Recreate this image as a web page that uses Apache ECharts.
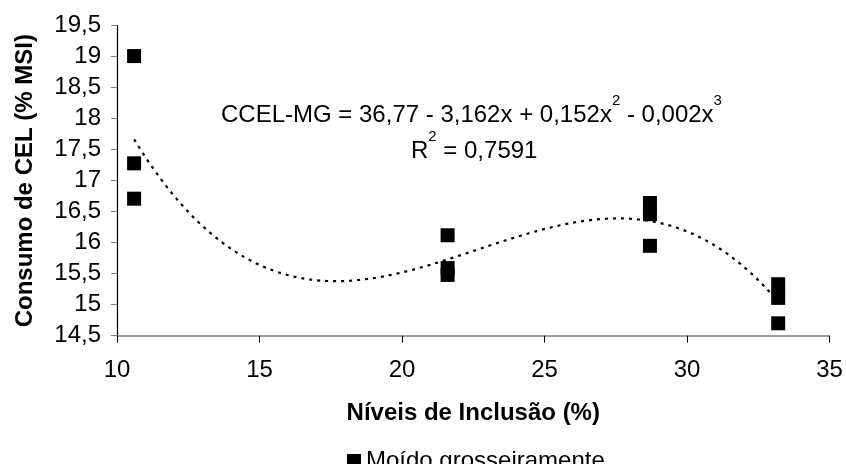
<!DOCTYPE html>
<html>
<head>
<meta charset="utf-8">
<script src="https://cdn.jsdelivr.net/npm/echarts@6/dist/echarts.min.js"></script>
<style>
  html, body { margin: 0; padding: 0; background: #fff; }
  #chart { width: 846px; height: 464px; }
</style>
</head>
<body>
<div id="chart"></div>
<script>
// ---- data ----
const xLevels = [10.6, 10.6, 10.6, 21.6, 21.6, 21.6, 28.7, 28.7, 28.7, 33.2, 33.2, 33.2];
const yValues = [19.01, 17.28, 16.71, 16.12, 15.59, 15.48, 16.64, 16.46, 15.95, 15.33, 15.11, 14.70];
const seriesName = 'Moído grosseiramente';
const xTitle = 'Níveis de Inclusão (%)';
const yTitle = 'Consumo de CEL (% MSI)';
const equationText = 'CCEL-MG = 36,77 - 3,162x + 0,152x';
const equationTail = ' - 0,002x';
const r2Text = 'R';
const r2Value = ' = 0,7591';

// ---- cubic least-squares trendline (computed from the data, as Excel does) ----
function polyFit(xs, ys, deg) {
  const n = deg + 1;
  const A = Array.from({length: n}, () => new Array(n + 1).fill(0));
  for (let k = 0; k < xs.length; k++) {
    for (let i = 0; i < n; i++) {
      for (let j = 0; j < n; j++) A[i][j] += Math.pow(xs[k], i + j);
      A[i][n] += ys[k] * Math.pow(xs[k], i);
    }
  }
  for (let c = 0; c < n; c++) {
    let p = c;
    for (let r = c + 1; r < n; r++) if (Math.abs(A[r][c]) > Math.abs(A[p][c])) p = r;
    [A[c], A[p]] = [A[p], A[c]];
    for (let r = 0; r < n; r++) {
      if (r === c) continue;
      const f = A[r][c] / A[c][c];
      for (let j = c; j <= n; j++) A[r][j] -= f * A[c][j];
    }
  }
  return A.map((row, i) => row[n] / row[i]);
}
const coef = polyFit(xLevels, yValues, 3);
const xMin = Math.min(...xLevels), xMax = Math.max(...xLevels);
const trend = [];
for (let i = 0; i <= 120; i++) {
  const x = xMin + (xMax - xMin) * i / 120;
  trend.push([x, coef[0] + coef[1] * x + coef[2] * x * x + coef[3] * x * x * x]);
}
const points = xLevels.map((x, i) => [x, yValues[i]]);

const FONT = '"Liberation Sans", Arial, sans-serif';
const FS = 24;
const fmt = v => String(v).replace('.', ',');

const chart = echarts.init(document.getElementById('chart'), null, {renderer: 'canvas'});
chart.setOption({
  animation: false,
  backgroundColor: '#ffffff',
  textStyle: { fontFamily: FONT },
  grid: { left: 117, right: 16.5, top: 25.7, bottom: 128.3, containLabel: false },
  xAxis: {
    type: 'value', min: 10, max: 35, interval: 5,
    name: xTitle, nameLocation: 'middle', nameGap: 66,
    nameTextStyle: { fontFamily: FONT, fontSize: FS, fontWeight: 'bold', color: '#000' },
    axisLine: { show: true, lineStyle: { color: '#808080', width: 1.5 } },
    axisTick: { show: true, length: 7, lineStyle: { color: '#000', width: 1 } },
    axisLabel: { margin: 23, fontFamily: FONT, fontSize: FS, color: '#000' },
    splitLine: { show: false }
  },
  yAxis: {
    type: 'value', min: 14.5, max: 19.5, interval: 0.5,
    name: yTitle, nameLocation: 'middle', nameGap: 80, nameRotate: 90,
    nameTextStyle: { fontFamily: FONT, fontSize: FS, fontWeight: 'bold', color: '#000' },
    axisLine: { show: true, lineStyle: { color: '#000', width: 1.2 } },
    axisTick: { show: true, length: 6, lineStyle: { color: '#808080', width: 1 } },
    axisLabel: { margin: 16, fontFamily: FONT, fontSize: FS, color: '#000', formatter: fmt },
    splitLine: { show: false }
  },
  legend: {
    data: [seriesName], left: 342, top: 444,
    icon: 'rect', itemWidth: 14, itemHeight: 14, itemGap: 5,
    textStyle: { fontFamily: FONT, fontSize: FS, color: '#000' }
  },
  graphic: [
    {
      type: 'text', left: 221, top: 93, silent: true,
      style: {
        text: '{m|' + equationText + '}{s|2}{m|' + equationTail + '}{s|3}',
        rich: {
          m: { fontFamily: FONT, fontSize: FS, fill: '#000', verticalAlign: 'bottom', lineHeight: 34 },
          s: { fontFamily: FONT, fontSize: 15, fill: '#000', verticalAlign: 'top', lineHeight: 34 }
        }
      }
    },
    {
      type: 'text', left: 411, top: 129, silent: true,
      style: {
        text: '{m|' + r2Text + '}{s|2}{m|' + r2Value + '}',
        rich: {
          m: { fontFamily: FONT, fontSize: FS, fill: '#000', verticalAlign: 'bottom', lineHeight: 34 },
          s: { fontFamily: FONT, fontSize: 15, fill: '#000', verticalAlign: 'top', lineHeight: 34 }
        }
      }
    }
  ],
  series: [
    {
      name: 'trend', type: 'line', data: trend, showSymbol: false, smooth: false,
      silent: true, z: 1,
      lineStyle: { color: '#000', width: 2.2, type: [3, 5] }
    },
    {
      name: seriesName, type: 'scatter', data: points, symbol: 'rect', symbolSize: 14,
      itemStyle: { color: '#000', opacity: 1 }, z: 3
    }
  ]
});
</script>
</body>
</html>
